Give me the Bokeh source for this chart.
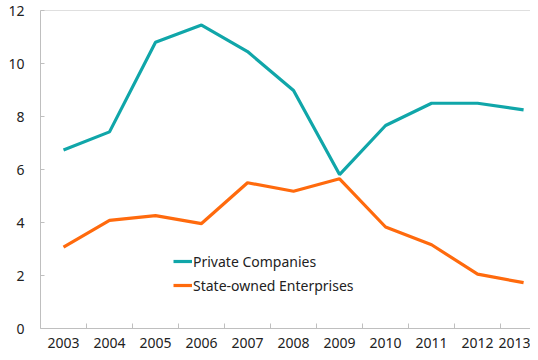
from bokeh.plotting import figure
from bokeh.models import Range1d, FixedTicker, Span, Legend, LegendItem
from bokeh.embed import file_html
from bokeh.resources import INLINE

years = [2003, 2004, 2005, 2006, 2007, 2008, 2009, 2010, 2011, 2012, 2013]
private = [6.74, 7.42, 10.8, 11.45, 10.45, 8.98, 5.81, 7.66, 8.5, 8.5, 8.25]
state = [3.07, 4.08, 4.26, 3.96, 5.5, 5.18, 5.65, 3.83, 3.16, 2.05, 1.73]
y_ticks = [0, 2, 4, 6, 8, 10, 12]

TEAL = "#10A6A9"
ORANGE = "#FF6A0D"
GRAY = "#BFBFBF"
FONT = "Noto Sans"

p = figure(width=530, height=352, output_backend="svg", toolbar_location=None,
           x_range=Range1d(2002.5, 2013.15), y_range=Range1d(0, 12),
           min_border_left=40, min_border_right=0, min_border_top=10, min_border_bottom=24)
p.outline_line_color = None
p.grid.visible = False

l1 = p.line(years, private, line_color=TEAL, line_width=3.2)
l2 = p.line(years, state, line_color=ORANGE, line_width=3.2)

p.add_layout(Span(location=12, dimension="width", line_color=GRAY, line_width=1))

xt = FixedTicker(ticks=years, minor_ticks=[y + 0.5 for y in years])
p.xaxis.ticker = xt
p.xaxis.major_tick_in = 0
p.xaxis.major_tick_out = 0
p.xaxis.minor_tick_in = 5
p.xaxis.minor_tick_out = 0
p.xaxis.minor_tick_line_color = GRAY
p.xaxis.major_label_standoff = 9

p.yaxis.ticker = FixedTicker(ticks=y_ticks)
p.yaxis.major_tick_in = 4
p.yaxis.major_tick_out = 0
p.yaxis.minor_tick_line_color = None
p.yaxis.major_tick_line_color = GRAY
p.yaxis.major_label_standoff = 16

for ax in (p.xaxis, p.yaxis):
    ax.axis_line_color = GRAY
    ax.major_label_text_font = FONT
    ax.major_label_text_font_size = "14px"
    ax.major_label_text_color = "#222222"

legend = Legend(items=[LegendItem(label="Private Companies", renderers=[l1]),
                       LegendItem(label="State-owned Enterprises", renderers=[l2])],
                location=(133, 33), orientation="vertical",
                background_fill_alpha=0, border_line_color=None,
                padding=0, margin=0, spacing=4,
                glyph_width=19, glyph_height=20, label_height=20, label_standoff=1,
                label_text_font=FONT, label_text_font_size="14px", label_text_color="#222222")
p.add_layout(legend)

open("out.html", "w").write(file_html(p, INLINE))
